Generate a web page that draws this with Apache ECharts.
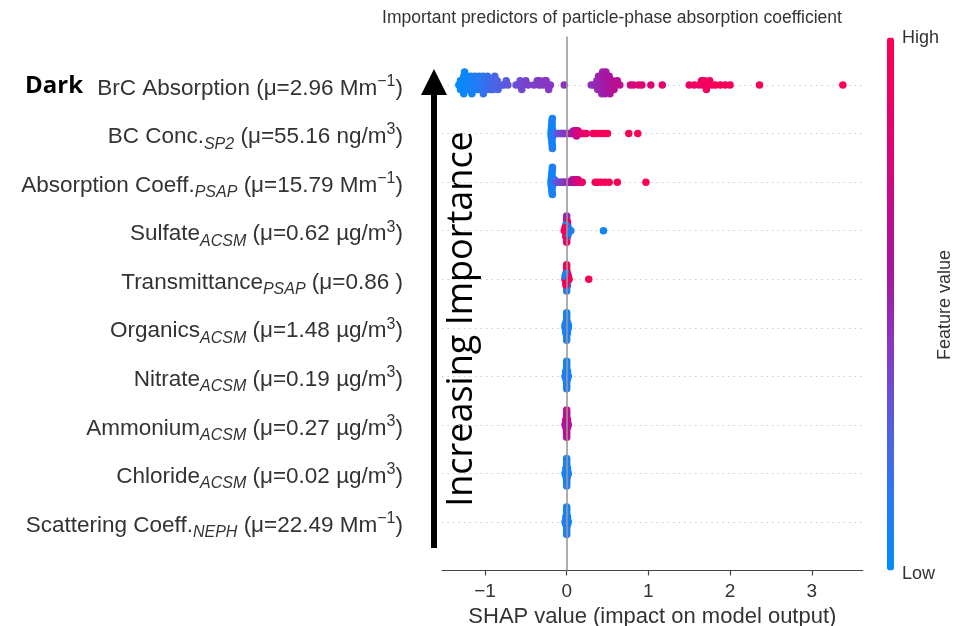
<!DOCTYPE html>
<html>
<head>
<meta charset="utf-8">
<script src="https://cdn.jsdelivr.net/npm/echarts@6/dist/echarts.min.js"></script>
<style>
html,body{margin:0;padding:0;background:#fff;}
#chart{width:956px;height:626px;}
</style>
</head>
<body>
<div id="chart"></div>
<script>
// ---------- labels (top to bottom) ----------
const featureNames = ['BrC Absorption', 'BC Conc.', 'Absorption Coeff.', 'Sulfate', 'Transmittance', 'Organics', 'Nitrate', 'Ammonium', 'Chloride', 'Scattering Coeff.'];
const featureSubs  = ['', 'SP2', 'PSAP', 'ACSM', 'PSAP', 'ACSM', 'ACSM', 'ACSM', 'ACSM', 'NEPH'];
const featureMeans = ['2.96', '55.16', '15.79', '0.62', '0.86', '1.48', '0.19', '0.27', '0.02', '22.49'];
const featureUnits = ['Mm', 'ng/m', 'Mm', 'µg/m', '', 'µg/m', 'µg/m', 'µg/m', 'µg/m', 'Mm'];
const featureSups  = ['−1', '3', '−1', '3', '', '3', '3', '3', '3', '−1'];
const xTicks = [-1, 0, 1, 2, 3];

// ---------- SHAP values and normalised feature values per row ----------
const brcShap = [-1.32,-1.30,-1.30,-1.29,-1.28,-1.27,-1.26,-1.26,-1.25,-1.24,-1.22,-1.22,-1.21,-1.20,-1.19,-1.18,-1.17,-1.16,-1.15,-1.14,-1.12,-1.12,-1.10,-1.09,-1.09,-1.07,-1.06,-1.05,-1.04,-1.02,-1.02,-1.00,-0.99,-0.98,-0.97,-0.95,-0.95,-0.93,-0.92,-0.90,-0.90,-0.88,-0.86,-0.85,-0.84,-0.80,-0.77,-0.74,-0.72,
  -0.62,-0.58,-0.57,-0.55,-0.53,-0.50,-0.47,-0.40,-0.36,-0.34,-0.33,-0.30,-0.27,-0.26,-0.25,-0.22,-0.20,
  -0.03,
  0.30,0.33,0.35,0.37,0.38,0.39,0.40,0.41,0.42,0.42,0.43,0.44,0.45,0.45,0.46,0.47,0.47,0.48,0.49,0.50,0.51,0.52,0.53,0.55,0.56,0.58,0.60,0.62,0.65,
  0.78,0.82,0.88,0.92,1.03,1.17,
  1.50,1.56,1.62,1.65,1.67,1.69,1.71,1.73,1.75,1.78,1.82,1.88,1.94,2.00,
  2.36,3.38];
const brcFeat = [0.00,0.02,0.03,0.01,0.02,0.03,0.02,0.04,0.04,0.03,0.05,0.06,0.05,0.06,0.07,0.07,0.07,0.08,0.08,0.09,0.10,0.11,0.11,0.12,0.12,0.12,0.13,0.13,0.14,0.15,0.16,0.16,0.17,0.18,0.18,0.19,0.20,0.21,0.21,0.22,0.23,0.23,0.24,0.25,0.25,0.27,0.28,0.29,0.30,
  0.33,0.34,0.35,0.35,0.36,0.37,0.38,0.38,0.39,0.40,0.40,0.40,0.41,0.42,0.42,0.42,0.43,
  0.45,
  0.44,0.46,0.47,0.48,0.48,0.50,0.49,0.50,0.51,0.52,0.50,0.52,0.53,0.54,0.53,0.55,0.54,0.56,0.55,0.57,0.58,0.57,0.59,0.60,0.61,0.62,0.63,0.64,0.66,
  0.74,0.76,0.78,0.80,0.82,0.84,
  0.87,0.88,0.89,0.90,0.90,0.91,0.91,0.92,0.92,0.93,0.94,0.94,0.95,0.96,
  0.97,1.00];

const bcShap = [-0.19,-0.19,-0.19,-0.185,-0.185,-0.185,-0.18,-0.18,-0.18,-0.18,-0.18,-0.18,-0.18,-0.18,-0.18,-0.18,-0.175,-0.175,-0.175,-0.17,-0.17,-0.17,-0.16,-0.15,
  -0.12,-0.10,-0.08,-0.06,-0.05,-0.03,-0.01,0.01,
  0.03,0.05,0.06,0.07,0.08,0.09,0.10,0.10,0.11,0.11,0.12,0.12,0.12,0.13,0.13,0.14,0.14,0.15,0.16,0.17,0.18,0.20,0.22,0.24,
  0.32,0.35,0.38,0.42,0.46,0.50,0.76,0.87];
const bcFeat = [0.02,0.03,0.04,0.02,0.05,0.03,0.04,0.06,0.02,0.05,0.07,0.03,0.08,0.04,0.06,0.09,0.05,0.07,0.10,0.06,0.08,0.11,0.12,0.14,
  0.28,0.30,0.33,0.36,0.38,0.40,0.42,0.45,
  0.48,0.50,0.52,0.54,0.55,0.56,0.58,0.60,0.62,0.63,0.65,0.66,0.68,0.70,0.71,0.72,0.74,0.75,0.77,0.78,0.80,0.82,0.84,0.86,
  0.90,0.92,0.93,0.94,0.95,0.96,0.96,0.97];

const psapShap = [-0.19,-0.19,-0.19,-0.185,-0.185,-0.18,-0.18,-0.18,-0.18,-0.18,-0.18,-0.18,-0.18,-0.18,-0.175,-0.175,-0.175,-0.17,-0.17,-0.17,-0.16,-0.15,
  -0.13,-0.11,-0.09,-0.07,-0.05,-0.04,-0.02,0.00,0.01,0.02,
  0.04,0.05,0.06,0.07,0.08,0.09,0.10,0.10,0.11,0.12,0.12,0.13,0.14,0.15,0.17,0.19,
  0.35,0.38,0.42,0.47,0.52,0.62,0.97];
const psapFeat = [0.02,0.03,0.05,0.02,0.04,0.03,0.06,0.02,0.05,0.07,0.03,0.08,0.04,0.06,0.05,0.07,0.09,0.06,0.08,0.10,0.12,0.14,
  0.28,0.30,0.33,0.35,0.38,0.40,0.42,0.44,0.46,0.48,
  0.52,0.54,0.56,0.58,0.60,0.62,0.64,0.65,0.67,0.69,0.70,0.72,0.75,0.78,0.82,0.86,
  0.92,0.93,0.94,0.95,0.96,0.97,0.98];

const sulShap = [0,0,0,0,0,0,0,0,0,0, 0.01,0.01,0.01,0.01,0.01,0.01, -0.01,-0.01,-0.01,-0.01,-0.01, 0.02,0.02,0.02, -0.02,-0.02, 0.03,0.04,0.05, -0.03, 0.45];
const sulFeat = [0.95,0.10,0.90,0.55,0.92,0.50,0.95,0.52,0.90,0.50, 0.10,0.15,0.08,0.55,0.12,0.90, 0.92,0.50,0.95,0.10,0.90, 0.05,0.10,0.08, 0.95,0.90, 0.08,0.05,0.10, 0.90, 0.05];

const trShap = [0,0,0,0,0,0,0,0,0,0, 0.01,0.01,0.01,0.01,0.01, -0.01,-0.01,-0.01,-0.01,-0.01, 0.02,0.02, -0.02,-0.02, 0.03, 0.27];
const trFeat = [0.10,0.12,0.90,0.10,0.15,0.95,0.10,0.92,0.12,0.95, 0.10,0.95,0.10,0.90,0.12, 0.90,0.10,0.95,0.10,0.92, 0.10,0.90, 0.95,0.10, 0.95, 0.95];

const orgShap = [0,0,0,0,0,0,0,0,0,0,0,0, 0.01,0.01,0.01,0.01,0.01, -0.01,-0.01,-0.01,-0.01,-0.01, 0.02,0.02, -0.02,-0.02];
const orgFeat = [0.85,0.10,0.05,0.10,0.08,0.12,0.05,0.10,0.08,0.06,0.10,0.05, 0.90,0.10,0.08,0.12,0.05, 0.10,0.70,0.05,0.10,0.08, 0.10,0.05, 0.08,0.10];

const nitShap = [0,0,0,0,0,0,0,0,0,0,0,0, 0.01,0.01,0.01,0.01, -0.01,-0.01,-0.01,-0.01, 0.02, -0.02];
const nitFeat = [0.10,0.05,0.08,0.12,0.06,0.10,0.05,0.08,0.12,0.06,0.10,0.05, 0.45,0.10,0.08,0.05, 0.12,0.06,0.10,0.05, 0.08, 0.10];

const ammShap = [0,0,0,0,0,0,0,0,0,0,0,0, 0.01,0.01,0.01,0.01, -0.01,-0.01,-0.01,-0.01, 0.02, -0.02];
const ammFeat = [0.55,0.60,0.65,0.70,0.60,0.65,0.70,0.62,0.68,0.60,0.66,0.70, 0.30,0.60,0.65,0.70, 0.62,0.66,0.58,0.70, 0.64, 0.60];

const chlShap = [0,0,0,0,0,0,0,0,0,0,0,0, 0.01,0.01,0.01,0.01, -0.01,-0.01,-0.01,-0.01, 0.02, -0.02];
const chlFeat = [0.50,0.45,0.55,0.40,0.50,0.10,0.08,0.10,0.05,0.08,0.10,0.06, 0.45,0.10,0.08,0.05, 0.50,0.10,0.06,0.08, 0.10, 0.05];

const scaShap = [0,0,0,0,0,0,0,0,0,0,0,0, 0.01,0.01,0.01,0.01, -0.01,-0.01,-0.01,-0.01, 0.02, -0.02];
const scaFeat = [0.75,0.70,0.65,0.10,0.08,0.10,0.05,0.08,0.10,0.06,0.10,0.05, 0.70,0.10,0.08,0.05, 0.10,0.06,0.10,0.08, 0.05, 0.10];

// rows, top to bottom
const rowShap = [brcShap, bcShap, psapShap, sulShap, trShap, orgShap, nitShap, ammShap, chlShap, scaShap];
const rowFeat = [brcFeat, bcFeat, psapFeat, sulFeat, trFeat, orgFeat, nitFeat, ammFeat, chlFeat, scaFeat];

// ---------- beeswarm layout (same rule as shap's summary plot) ----------
function swarmOffsets(xs, rowHeight) {
  const n = xs.length;
  const mn = Math.min.apply(null, xs), mx = Math.max.apply(null, xs);
  const quant = xs.map(x => Math.round(100 * (x - mn) / (mx - mn + 1e-8)));
  const inds = xs.map((_, i) => i).sort((a, b) => (quant[a] - quant[b]) || (a - b));
  const ys = new Array(n).fill(0);
  let layer = 0, last = -1;
  inds.forEach(i => {
    if (quant[i] !== last) layer = 0;
    ys[i] = Math.ceil(layer / 2) * ((layer % 2) * 2 - 1);
    layer++;
    last = quant[i];
  });
  const m = Math.max.apply(null, ys.map(y => y + 1));
  return ys.map(y => y * 0.9 * rowHeight / m);
}

const FONT = '"Liberation Sans", Arial, Helvetica, sans-serif';
const nRows = featureNames.length;

const scatterSeries = rowShap.map((xs, k) => {
  const pos = nRows - 1 - k;
  const offs = swarmOffsets(xs, 0.4);
  return {
    type: 'scatter',
    name: featureNames[k],
    symbolSize: 7.5,
    z: 3,
    itemStyle: { opacity: 1 },
    emphasis: { disabled: true },
    data: xs.map((x, i) => [x, pos + offs[i], rowFeat[k][i]])
  };
});

const zeroLineSeries = {
  type: 'scatter',
  data: [],
  z: 1,
  silent: true,
  markLine: {
    silent: true,
    symbol: 'none',
    animation: false,
    label: { show: false },
    lineStyle: { color: '#999999', width: 1.6, type: 'solid' },
    data: [{ xAxis: 0 }]
  }
};

function rowLabel(v) {
  const i = Math.round(v);
  if (Math.abs(v - i) > 1e-6 || i < 0 || i > nRows - 1) return '';
  const k = nRows - 1 - i;
  let s = '{n|' + featureNames[k] + '}';
  if (featureSubs[k]) s += '{sub|' + featureSubs[k] + '}';
  s += '{n| (μ=' + featureMeans[k] + ' ' + featureUnits[k] + '}';
  if (featureSups[k]) s += '{sup|' + featureSups[k] + '}';
  s += '{n|)}';
  return s;
}

const gridColors = [];
for (let v = -1; v <= 10; v++) gridColors.push((v >= 0 && v <= 9) ? '#cccccc' : 'rgba(0,0,0,0)');

const option = {
  animation: false,
  backgroundColor: '#ffffff',
  textStyle: { fontFamily: FONT },
  title: {
    text: 'Important predictors of particle-phase absorption coefficient',
    left: 607, top: 4, textAlign: 'center',
    textStyle: { fontFamily: FONT, fontSize: 17.5, fontWeight: 'normal', color: '#333333' }
  },
  grid: { left: 442, right: 93.3, top: 36.5, bottom: 55.5, containLabel: false, outerBoundsMode: 'none' },
  xAxis: {
    type: 'value',
    min: -1.526, max: 3.623,
    name: 'SHAP value (impact on model output)',
    nameLocation: 'middle', nameGap: 32,
    nameTextStyle: { fontFamily: FONT, fontSize: 22, color: '#333333' },
    axisLine: { show: true, onZero: false, lineStyle: { color: '#444444', width: 1.2 } },
    axisTick: { show: true, length: 5, customValues: xTicks, lineStyle: { color: '#444444', width: 1.2 } },
    axisLabel: {
      customValues: xTicks, margin: 12,
      fontFamily: FONT, fontSize: 19, color: '#333333',
      formatter: v => String(v).replace('-', '−')
    },
    splitLine: { show: false }
  },
  yAxis: {
    type: 'value',
    min: -1, max: 10, interval: 1,
    axisLine: { show: false },
    axisTick: { show: false },
    splitLine: { show: true, lineStyle: { color: gridColors, width: 1, type: [1.5, 4] } },
    axisLabel: {
      margin: 39,
      padding: [7, 0, 0, 0],
      formatter: rowLabel,
      rich: {
        n: { fontFamily: FONT, fontSize: 22.5, color: '#333333', lineHeight: 30 },
        sub: { fontFamily: FONT, fontSize: 16, fontStyle: 'italic', color: '#333333', lineHeight: 19, verticalAlign: 'bottom' },
        sup: { fontFamily: FONT, fontSize: 16, color: '#333333', lineHeight: 24, verticalAlign: 'top' }
      }
    }
  },
  visualMap: {
    type: 'continuous',
    min: 0, max: 1,
    dimension: 2,
    seriesIndex: scatterSeries.map((_, i) => i + 1),
    calculable: false,
    realtime: false,
    orient: 'vertical',
    left: 887, top: 37.5,
    padding: 0,
    itemWidth: 7, itemHeight: 533,
    text: null,
    showLabel: false,
    inRange: { color: ['#008bfb', '#2a78f3', '#5a5ae0', '#8a35c0', '#a8149f', '#cc0a85', '#eb0068', '#ff0052'] }
  },
  graphic: [
    { type: 'text', x: 25, y: 86, style: { text: 'Dark', fontFamily: '"Open Sans", sans-serif', fontWeight: 'bold', fontSize: 24, fill: '#000000', textAlign: 'left', textVerticalAlign: 'middle' } },
    { type: 'rect', shape: { x: 431, y: 92, width: 6, height: 456 }, style: { fill: '#000000' } },
    { type: 'polygon', shape: { points: [[434, 69], [421, 95], [447, 95]] }, style: { fill: '#000000' } },
    { type: 'text', x: 462, y: 319, rotation: Math.PI / 2, style: { text: 'Increasing Importance', fontFamily: '"Open Sans", sans-serif', fontSize: 36, fill: '#000000', textAlign: 'center', textVerticalAlign: 'middle' } },
    { type: 'text', x: 902, y: 38, style: { text: 'High', fontFamily: FONT, fontSize: 18, fill: '#333333', textAlign: 'left', textVerticalAlign: 'middle' } },
    { type: 'text', x: 902, y: 574, style: { text: 'Low', fontFamily: FONT, fontSize: 18, fill: '#333333', textAlign: 'left', textVerticalAlign: 'middle' } },
    { type: 'text', x: 945, y: 305, rotation: Math.PI / 2, style: { text: 'Feature value', fontFamily: FONT, fontSize: 18, fill: '#333333', textAlign: 'center', textVerticalAlign: 'middle' } }
  ],
  series: [zeroLineSeries].concat(scatterSeries)
};

const chart = echarts.init(document.getElementById('chart'), null, { renderer: 'canvas' });
chart.setOption(option);
</script>
</body>
</html>
